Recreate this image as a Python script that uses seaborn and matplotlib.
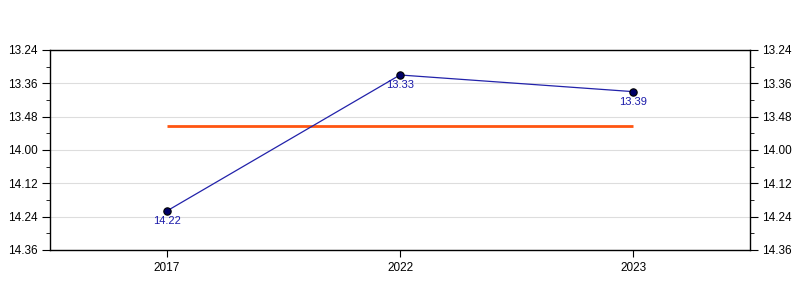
import matplotlib
matplotlib.use("Agg")
import matplotlib.pyplot as plt
import seaborn as sns
import pandas as pd
import numpy as np
from matplotlib.ticker import FixedLocator, FuncFormatter

years = ["2017", "2022", "2023"]
times = ["14.22", "13.33", "13.39"]  # minutes.seconds

def to_sec(s):
    m, sec = s.split(".")
    return int(m) * 60 + int(sec)

secs = [to_sec(t) for t in times]
df = pd.DataFrame({"year": years, "sec": secs, "label": times})
mean_sec = float(np.mean(secs))

sns.set_style("white")
plt.rcParams["font.family"] = ["Liberation Sans", "DejaVu Sans"]

fig = plt.figure(figsize=(8, 3), dpi=100)
ax = fig.add_axes([0.0625, 0.1667, 0.875, 0.6667])

ax.hlines(mean_sec, 0, len(years) - 1, color="#FF5511", lw=2, zorder=2)
sns.lineplot(data=df, x="year", y="sec", ax=ax, color="#2222AA", lw=0.9, zorder=3, sort=False)
sns.scatterplot(data=df, x="year", y="sec", ax=ax, color="#000066", edgecolor="black",
                s=28, linewidth=0.8, zorder=4)
for i, (s, lab) in enumerate(zip(secs, times)):
    ax.annotate(lab, (i, s), xytext=(0, -3.5), textcoords="offset points",
                ha="center", va="top", color="#1a1aaa", fontsize=8, zorder=5)

ax.set_xlim(-0.5, len(years) - 0.5)
ax.set_ylim(876, 804)
major = list(range(804, 877, 12))
minor = list(range(810, 877, 12))
ax.yaxis.set_major_locator(FixedLocator(major))
ax.yaxis.set_minor_locator(FixedLocator(minor))
ax.yaxis.set_major_formatter(FuncFormatter(lambda v, p: f"{int(v)//60}.{int(v)%60:02d}"))
ax.grid(axis="y", color="#dddddd", lw=0.8)
ax.set_axisbelow(True)
ax.set_xlabel("")
ax.set_ylabel("")
for sp in ax.spines.values():
    sp.set_color("black")
    sp.set_linewidth(1)
ax.tick_params(axis="y", which="both", left=True, right=True, labelleft=True, labelright=True,
               direction="out", color="black", labelcolor="black", labelsize=8.5, pad=3)
ax.tick_params(axis="y", which="major", length=6)
ax.tick_params(axis="y", which="minor", length=3)
ax.tick_params(axis="x", bottom=True, direction="out", length=5, labelsize=8.5,
               color="black", labelcolor="black")

fig.savefig("out.png", dpi=100)
